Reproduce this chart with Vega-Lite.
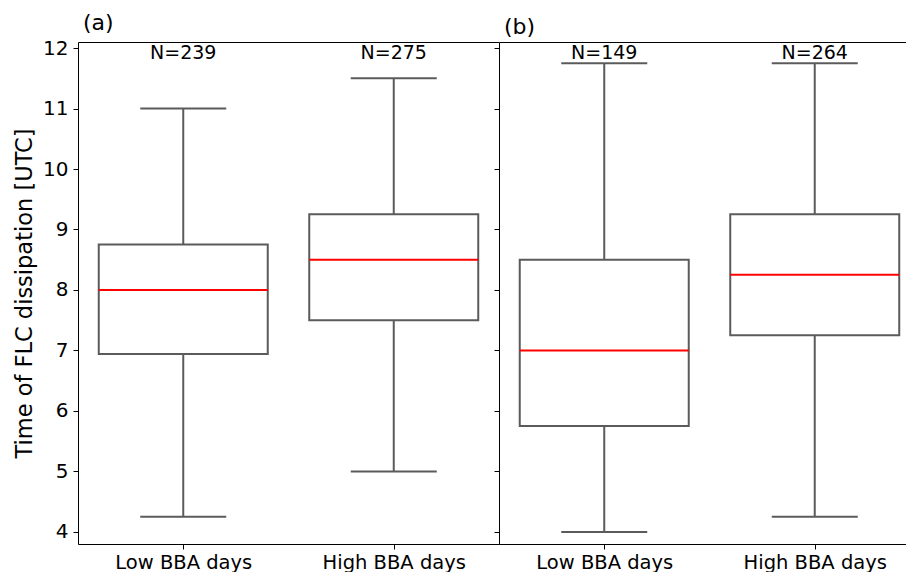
{
  "$schema": "https://vega.github.io/schema/vega-lite/v6.json",
  "padding": {"left": 13, "top": 12, "right": 0, "bottom": 0},
  "spacing": -7,
  "config": {
    "view": {"stroke": null},
    "font": "DejaVu Sans",
    "axis": {"grid": false, "domainColor": "black", "tickColor": "black", "labelColor": "black", "titleColor": "black", "labelFont": "DejaVu Sans", "titleFont": "DejaVu Sans", "labelFontSize": 20, "titleFontSize": 22.5, "titleFontWeight": "normal", "tickSize": 5, "domainWidth": 1, "tickWidth": 1, "labelPadding": 5},
    "title": {"font": "DejaVu Sans", "fontSize": 22, "fontWeight": "normal", "anchor": "start", "frame": "group", "color": "black", "offset": 3, "dx": 5}
  },
  "datasets": {
    "boxes": [
      {"panel": "a", "group": "Low BBA days", "lo": 4.25, "q1": 6.94, "med": 8.0, "q3": 8.75, "hi": 11.0, "label": "N=239"},
      {"panel": "a", "group": "High BBA days", "lo": 5.0, "q1": 7.5, "med": 8.5, "q3": 9.25, "hi": 11.5, "label": "N=275"},
      {"panel": "b", "group": "Low BBA days", "lo": 4.0, "q1": 5.75, "med": 7.0, "q3": 8.5, "hi": 11.75, "label": "N=149"},
      {"panel": "b", "group": "High BBA days", "lo": 4.25, "q1": 7.25, "med": 8.25, "q3": 9.25, "hi": 11.75, "label": "N=264"}
    ]
  },
  "hconcat": [
    {
      "width": 421, "height": 502,
      "title": {"text": "(a)"},
      "data": {"name": "boxes"},
      "transform": [{"filter": "datum.panel == 'a'"}],
      "resolve": {"axis": {"x": "independent"}},
      "layer": [
        {
          "mark": {"type": "rule", "color": "#5b5b5b", "strokeWidth": 2},
          "encoding": {
            "x": {"field": "group", "type": "nominal", "sort": ["Low BBA days", "High BBA days"], "scale": {"type": "point", "padding": 0.5}, "axis": {"orient": "bottom", "title": null, "labelAngle": 0, "labelFontSize": 19.5, "labelPadding": 4}},
            "y": {"field": "lo", "type": "quantitative", "scale": {"domain": [3.8, 12.1], "nice": false, "zero": false}, "title": "Time of FLC dissipation [UTC]", "axis": {"values": [4, 5, 6, 7, 8, 9, 10, 11, 12], "format": "d", "titlePadding": 6}},
            "y2": {"field": "hi"}
          }
        },
        {
          "mark": {"type": "bar", "fill": "white", "stroke": "#5b5b5b", "strokeWidth": 2, "width": 169},
          "encoding": {
            "x": {"field": "group", "type": "nominal", "sort": ["Low BBA days", "High BBA days"], "axis": null},
            "y": {"field": "q1", "type": "quantitative", "title": "Time of FLC dissipation [UTC]"},
            "y2": {"field": "q3"}
          }
        },
        {
          "mark": {"type": "tick", "color": "#5b5b5b", "thickness": 2, "size": 86, "opacity": 1},
          "encoding": {
            "x": {"field": "group", "type": "nominal", "sort": ["Low BBA days", "High BBA days"], "axis": null},
            "y": {"field": "lo", "type": "quantitative", "title": "Time of FLC dissipation [UTC]"}
          }
        },
        {
          "mark": {"type": "tick", "color": "#5b5b5b", "thickness": 2, "size": 86, "opacity": 1},
          "encoding": {
            "x": {"field": "group", "type": "nominal", "sort": ["Low BBA days", "High BBA days"], "axis": null},
            "y": {"field": "hi", "type": "quantitative", "title": "Time of FLC dissipation [UTC]"}
          }
        },
        {
          "mark": {"type": "tick", "color": "#ff0000", "thickness": 2, "size": 169, "opacity": 1},
          "encoding": {
            "x": {"field": "group", "type": "nominal", "sort": ["Low BBA days", "High BBA days"], "axis": null},
            "y": {"field": "med", "type": "quantitative", "title": "Time of FLC dissipation [UTC]"}
          }
        },
        {
          "mark": {"type": "text", "fontSize": 19, "color": "black", "baseline": "middle", "align": "center"},
          "encoding": {
            "x": {"field": "group", "type": "nominal", "sort": ["Low BBA days", "High BBA days"], "axis": {"orient": "top", "labels": false, "ticks": false, "title": null, "domain": true}},
            "y": {"datum": 11.92, "type": "quantitative", "title": "Time of FLC dissipation [UTC]"},
            "text": {"field": "label"}
          }
        }
      ]
    },
    {
      "width": 407, "height": 502,
      "title": {"text": "(b)"},
      "data": {"name": "boxes"},
      "transform": [{"filter": "datum.panel == 'b'"}],
      "resolve": {"axis": {"x": "independent"}},
      "layer": [
        {
          "mark": {"type": "rule", "color": "#5b5b5b", "strokeWidth": 2},
          "encoding": {
            "x": {"field": "group", "type": "nominal", "sort": ["Low BBA days", "High BBA days"], "scale": {"type": "point", "padding": 0.46675, "align": 0.5356}, "axis": {"orient": "bottom", "title": null, "labelAngle": 0, "labelFontSize": 19.5, "labelPadding": 4}},
            "y": {"field": "lo", "type": "quantitative", "scale": {"domain": [3.8, 12.1], "nice": false, "zero": false}, "title": null, "axis": {"values": [4, 5, 6, 7, 8, 9, 10, 11, 12], "labels": false}},
            "y2": {"field": "hi"}
          }
        },
        {
          "mark": {"type": "bar", "fill": "white", "stroke": "#5b5b5b", "strokeWidth": 2, "width": 169},
          "encoding": {
            "x": {"field": "group", "type": "nominal", "sort": ["Low BBA days", "High BBA days"], "axis": null},
            "y": {"field": "q1", "type": "quantitative", "title": null},
            "y2": {"field": "q3"}
          }
        },
        {
          "mark": {"type": "tick", "color": "#5b5b5b", "thickness": 2, "size": 86, "opacity": 1},
          "encoding": {
            "x": {"field": "group", "type": "nominal", "sort": ["Low BBA days", "High BBA days"], "axis": null},
            "y": {"field": "lo", "type": "quantitative", "title": null}
          }
        },
        {
          "mark": {"type": "tick", "color": "#5b5b5b", "thickness": 2, "size": 86, "opacity": 1},
          "encoding": {
            "x": {"field": "group", "type": "nominal", "sort": ["Low BBA days", "High BBA days"], "axis": null},
            "y": {"field": "hi", "type": "quantitative", "title": null}
          }
        },
        {
          "mark": {"type": "tick", "color": "#ff0000", "thickness": 2, "size": 169, "opacity": 1},
          "encoding": {
            "x": {"field": "group", "type": "nominal", "sort": ["Low BBA days", "High BBA days"], "axis": null},
            "y": {"field": "med", "type": "quantitative", "title": null}
          }
        },
        {
          "mark": {"type": "text", "fontSize": 19, "color": "black", "baseline": "middle", "align": "center"},
          "encoding": {
            "x": {"field": "group", "type": "nominal", "sort": ["Low BBA days", "High BBA days"], "axis": {"orient": "top", "labels": false, "ticks": false, "title": null, "domain": true}},
            "y": {"datum": 11.92, "type": "quantitative", "title": null},
            "text": {"field": "label"}
          }
        }
      ]
    }
  ]
}
